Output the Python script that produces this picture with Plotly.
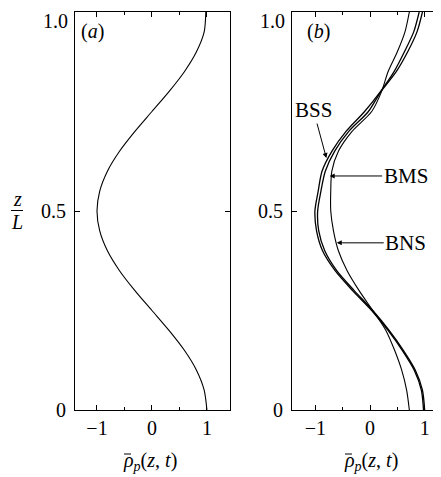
import plotly.graph_objects as go

# heights z/L where the profiles were read
z_levels = [0.0, 0.05, 0.10, 0.15, 0.20, 0.25, 0.30, 0.35, 0.40, 0.45, 0.50,
            0.55, 0.60, 0.65, 0.70, 0.75, 0.80, 0.85, 0.90, 0.95, 1.0]

# panel (a): initial profile
rho_a = [1.0, 0.95, 0.81, 0.59, 0.31, 0.0, -0.31, -0.59, -0.81, -0.95, -1.0,
         -0.95, -0.81, -0.59, -0.31, 0.0, 0.31, 0.59, 0.81, 0.95, 0.98]

# panel (b): three cases
rho_bss = [0.98, 0.94, 0.81, 0.59, 0.33, 0.03, -0.32, -0.64, -0.87, -0.98, -1.01,
           -0.95, -0.88, -0.70, -0.44, -0.10, 0.19, 0.44, 0.63, 0.80, 0.90]
rho_bms = [1.0, 0.96, 0.83, 0.61, 0.35, 0.05, -0.29, -0.61, -0.83, -0.94, -0.96,
           -0.90, -0.82, -0.65, -0.39, -0.03, 0.20, 0.48, 0.69, 0.86, 0.96]
rho_bns = [0.72, 0.67, 0.58, 0.45, 0.29, 0.05, -0.20, -0.42, -0.58, -0.67, -0.72,
           -0.72, -0.70, -0.58, -0.33, 0.03, 0.21, 0.33, 0.50, 0.64, 0.72]

FONT = "Times New Roman, Liberation Serif, serif"
W, H = 441, 477
OFF = 8  # page body margin of the html file

def px_x(p):
    return (p - OFF) / W

def px_y(p):
    return 1 - (p - OFF) / H

fig = go.Figure()
line = dict(color="black", width=1.1, shape="spline", smoothing=0.8)
fig.add_trace(go.Scatter(x=rho_a, y=z_levels, mode="lines", line=line, xaxis="x", yaxis="y"))
for r in (rho_bss, rho_bms):
    fig.add_trace(go.Scatter(x=r, y=z_levels, mode="lines", xaxis="x2", yaxis="y2",
                             line=dict(color="black", width=1.3, shape="spline", smoothing=0.8)))
fig.add_trace(go.Scatter(x=rho_bns, y=z_levels, mode="lines", line=line, xaxis="x2", yaxis="y2"))

xax = dict(showgrid=False, zeroline=False, showline=True, linecolor="black", linewidth=1,
           mirror="ticks", ticks="inside", ticklen=5, tickcolor="black", automargin=False,
           tickvals=[-1, 0, 1], ticktext=["\u22121", "0", "1"], ticklabeloverflow="allow",
           minor=dict(tickvals=[-0.5, 0.5], ticks="inside", ticklen=3, tickcolor="black"),
           tickfont=dict(family=FONT, size=20, color="black"))
# the top label "1.0" is drawn as an annotation so it is not cut at the page edge
yax = dict(showgrid=False, zeroline=False, showline=True, linecolor="black", linewidth=1,
           ticks="inside", ticklen=5, tickcolor="black", range=[0, 1], automargin=False,
           tickvals=[0, 0.5, 1.0], ticktext=["0", "0.5", ""], ticklabelstandoff=4,
           ticklabeloverflow="allow",
           tickfont=dict(family=FONT, size=20, color="black"))

ydom = [px_y(410), px_y(12)]
fig.update_layout(
    width=W, height=H, showlegend=False,
    margin=dict(l=0, r=0, t=0, b=0, pad=0),
    paper_bgcolor="white", plot_bgcolor="white",
    xaxis=dict(xax, domain=[px_x(75), px_x(230)], range=[-1.40, 1.42], anchor="y"),
    yaxis=dict(yax, domain=ydom, anchor="x", mirror="ticks"),
    xaxis2=dict(xax, domain=[px_x(292), px_x(441)], range=[-1.43, 1.30], anchor="y2"),
    yaxis2=dict(yax, domain=ydom, anchor="x2", mirror=False),
)

txt = dict(family=FONT, size=20, color="black")
rho_title = "<i>\u03c1</i><sub><i>p</i></sub>(<i>z</i>, <i>t</i>)"
ann = [
    dict(x=px_x(92), y=px_y(32), text="(<i>a</i>)", xanchor="center"),
    dict(x=px_x(318), y=px_y(32), text="(<i>b</i>)", xanchor="center"),
    dict(x=px_x(121), y=px_y(461), text=rho_title, xanchor="left"),
    dict(x=px_x(342), y=px_y(461), text=rho_title, xanchor="left"),
    dict(x=px_x(17), y=px_y(199), text="<i>z</i>", xanchor="center"),
    dict(x=px_x(17), y=px_y(222), text="<i>L</i>", xanchor="center"),
    dict(x=px_x(70), y=px_y(8), text="1.0", xanchor="right", yanchor="top"),
    dict(x=px_x(287), y=px_y(8), text="1.0", xanchor="right", yanchor="top"),
]
for a in ann:
    a.setdefault("yanchor", "middle")
    a.update(xref="paper", yref="paper", showarrow=False, font=txt)
    fig.add_annotation(**a)

# case labels with arrows pointing to the curves
labels = [("BSS", -0.80, 0.633, -13, -48),
          ("BMS", -0.74, 0.588, 76, 0),
          ("BNS", -0.61, 0.420, 69, 0)]
for name, xr, zr, ax, ay in labels:
    fig.add_annotation(x=xr, y=zr, xref="x2", yref="y2", text=name,
                       font=dict(family=FONT, size=21, color="black"),
                       showarrow=True, arrowhead=2, arrowsize=1, arrowwidth=1,
                       arrowcolor="black", ax=ax, ay=ay)

# fraction bar of z/L and the bars over rho
for x0, x1, y0 in [(11, 23, 210.5), (124, 131, 454), (345, 352, 454)]:
    fig.add_shape(type="line", xref="paper", yref="paper",
                  x0=px_x(x0), x1=px_x(x1), y0=px_y(y0), y1=px_y(y0),
                  line=dict(color="black", width=1))

fig.write_html("out.html")
